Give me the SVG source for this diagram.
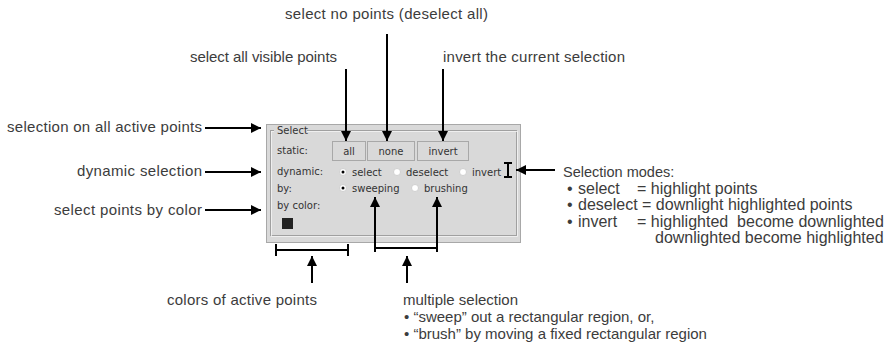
<svg xmlns="http://www.w3.org/2000/svg" width="889" height="345" viewBox="0 0 889 345">
<defs>
<marker id="ah" viewBox="0 0 10 10" refX="10" refY="5" markerWidth="10" markerHeight="10" markerUnits="userSpaceOnUse" orient="auto">
<path d="M0,0 L10,5 L0,10 z" fill="#000"/>
</marker>
</defs>
<style>
.lbl{font-family:"Liberation Sans",Arial,sans-serif;font-size:15px;fill:#3c3c3c}
.big{font-size:16px}
.ui{font-family:"DejaVu Sans",sans-serif;font-size:10px;fill:#333}
.arr{stroke:#000;stroke-width:2;fill:none;marker-end:url(#ah)}
.ln{stroke:#000;stroke-width:2;fill:none}
.btn{fill:#d9d9d9;stroke:#a8a8a8;stroke-width:1}
.rad{fill:#fff;stroke:#c8c8c8;stroke-width:0.8}
</style>
<rect width="889" height="345" fill="#fff"/>

<g id="panel">
<rect x="266.5" y="124.5" width="254" height="118" fill="#d9d9d9" stroke="#a8a8a8"/>
<rect x="270.5" y="130.5" width="246" height="105" fill="none" stroke="#a0a0a0"/>
<rect x="271.5" y="131.5" width="246" height="105" fill="none" stroke="#f4f4f4" stroke-width="0.8"/>
<rect x="274" y="126" width="33" height="9" fill="#d9d9d9"/>
<text class="ui" x="277" y="134">Select</text>
<text class="ui" x="277" y="154">static:</text>
<text class="ui" x="277" y="175">dynamic:</text>
<text class="ui" x="277" y="192">by:</text>
<text class="ui" x="277" y="209">by color:</text>
<rect x="282" y="218" width="11" height="11" fill="#222"/>
</g>

<g id="btn-all">
<rect class="btn" x="332.5" y="141.5" width="33" height="19"/>
<text class="ui" x="349" y="154.5" text-anchor="middle">all</text>
</g>
<g id="btn-none">
<rect class="btn" x="367.5" y="141.5" width="47" height="19"/>
<text class="ui" x="391" y="154.5" text-anchor="middle">none</text>
</g>
<g id="btn-invert">
<rect class="btn" x="417.5" y="141.5" width="51" height="19"/>
<text class="ui" x="443" y="154.5" text-anchor="middle">invert</text>
</g>

<g id="radios">
<circle class="rad" cx="343" cy="172" r="3.5"/><circle cx="343" cy="172" r="1.5" fill="#000"/>
<text class="ui" x="352" y="175.5">select</text>
<circle class="rad" cx="397" cy="172" r="3.5"/>
<text class="ui" x="406" y="175.5">deselect</text>
<circle class="rad" cx="463" cy="172" r="3.5"/>
<text class="ui" x="472" y="175.5">invert</text>
<circle class="rad" cx="343" cy="188" r="3.5"/><circle cx="343" cy="188" r="1.5" fill="#000"/>
<text class="ui" x="352" y="192">sweeping</text>
<circle class="rad" cx="415" cy="188" r="3.5"/>
<text class="ui" x="424" y="192">brushing</text>
</g>

<g id="ibeam">
<path class="ln" d="M508,163 V177 M504,163 H512 M504,177 H512"/>
</g>

<g id="labels">
<text class="lbl" x="285" y="19" textLength="203">select no points (deselect all)</text>
<text class="lbl" x="190" y="62" textLength="147">select all visible points</text>
<text class="lbl" x="443" y="62" textLength="182">invert the current selection</text>
<text class="lbl" x="7" y="132" textLength="195">selection on all active points</text>
<text class="lbl" x="77" y="176" textLength="125">dynamic selection</text>
<text class="lbl" x="54" y="215" textLength="148">select points by color</text>
<text class="lbl" x="167" y="305" textLength="150">colors of active points</text>
</g>

<g id="modes">
<text class="lbl" x="563" y="177" style="font-size:14.5px">Selection modes:</text>
<text class="lbl big" x="567" y="193.5">•</text><text class="lbl big" x="578" y="193.5">select</text><text class="lbl big" x="637" y="193.5">= highlight points</text>
<text class="lbl big" x="567" y="210">•</text><text class="lbl big" x="578" y="210">deselect = downlight highlighted points</text>
<text class="lbl big" x="567" y="226.5">•</text><text class="lbl big" x="578" y="226.5">invert</text><text class="lbl big" x="637" y="226.5" xml:space="preserve">= highlighted  become downlighted</text>
<text class="lbl big" x="655" y="243">downlighted become highlighted</text>
</g>

<g id="multi">
<text class="lbl" x="403" y="305">multiple selection</text>
<text class="lbl" x="404" y="322">•  “sweep” out a rectangular region, or,</text>
<text class="lbl" x="404" y="339">•  “brush” by moving a fixed rectangular region</text>
</g>

<g id="connectors">
<path class="arr" d="M346,69 V141"/>
<path class="arr" d="M387,34 V141"/>
<path class="arr" d="M443,69 V141"/>
<path class="arr" d="M205,128 H261"/>
<path class="arr" d="M205,172 H261"/>
<path class="arr" d="M205,210 H261"/>
<path class="arr" d="M555,170 H516"/>
<path class="ln" d="M276,250 H348 M276,244 V256 M348,244 V256"/>
<path class="arr" d="M312,283 V256"/>
<path class="arr" d="M375,252 V197"/>
<path class="arr" d="M437,252 V197"/>
<path class="ln" d="M375,248 H437"/>
<path class="arr" d="M407,283 V256"/>
</g>
</svg>
